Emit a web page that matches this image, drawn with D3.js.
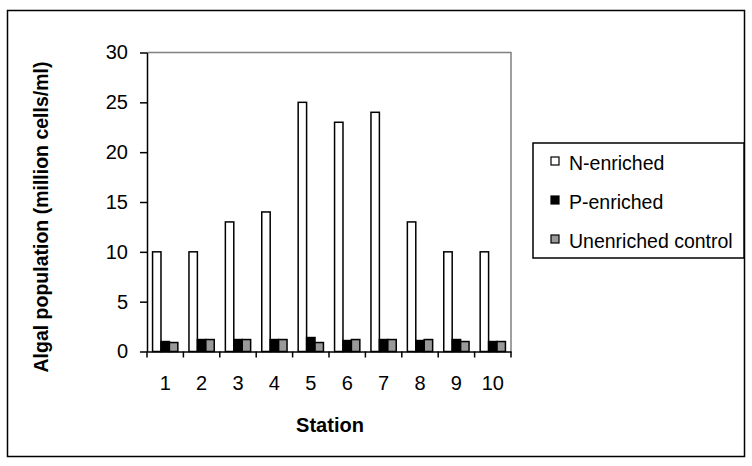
<!DOCTYPE html>
<html>
<head>
<meta charset="utf-8">
<script src="https://cdn.jsdelivr.net/npm/d3@7"></script>
<style>
  body { margin: 0; background: #fff; }
  text { font-family: "Liberation Sans", Arial, sans-serif; }
</style>
</head>
<body>
<script>
// data
var stations = ["1", "2", "3", "4", "5", "6", "7", "8", "9", "10"];
var nEnriched = [10, 10, 13, 14, 25, 23, 24, 13, 10, 10];
var pEnriched = [1.0, 1.2, 1.2, 1.2, 1.4, 1.1, 1.2, 1.1, 1.2, 1.0];
var control = [0.9, 1.2, 1.2, 1.2, 0.9, 1.2, 1.2, 1.2, 1.0, 1.0];
var seriesNames = ["N-enriched", "P-enriched", "Unenriched control"];
var seriesColors = ["#ffffff", "#000000", "#999999"];
var yTicks = [0, 5, 10, 15, 20, 25, 30];

var w = 752, h = 466;
var plotLeft = 147, plotRight = 511, plotTop = 52.5, plotBottom = 351.5;

var svg = d3.select("body").append("svg")
	.attr("width", w)
	.attr("height", h);

// outer frame
svg.append("rect")
	.attr("x", 7.5).attr("y", 10.5)
	.attr("width", 737).attr("height", 446)
	.attr("fill", "none").attr("stroke", "black").attr("stroke-width", 1.5);

var x0 = d3.scaleBand().domain(stations).range([plotLeft, plotRight]);
var x1 = d3.scaleBand().domain([0, 1, 2]).range([0, x0.bandwidth()]).paddingOuter(0.66);
var y = d3.scaleLinear().domain([0, 30]).range([plotBottom, plotTop]);

// gray top/right plot border
svg.append("path")
	.attr("d", "M" + plotLeft + "," + plotTop + "H" + plotRight + "V" + plotBottom)
	.attr("fill", "none").attr("stroke", "#808080").attr("stroke-width", 1.5);

var rows = stations.map(function(s, i) {
	return { station: s, values: [nEnriched[i], pEnriched[i], control[i]] };
});

var groups = svg.selectAll(".station")
	.data(rows)
	.enter().append("g")
	.attr("class", "station")
	.attr("transform", function(d) { return "translate(" + x0(d.station) + ",0)"; });

groups.selectAll("rect")
	.data(function(d) { return d.values.map(function(v, k) { return { k: k, v: v }; }); })
	.enter().append("rect")
	.attr("x", function(d) { return x1(d.k); })
	.attr("width", x1.bandwidth())
	.attr("y", function(d) { return y(d.v); })
	.attr("height", function(d) { return y(0) - y(d.v); })
	.attr("fill", function(d) { return seriesColors[d.k]; })
	.attr("stroke", "black")
	.attr("stroke-width", 1.5);

// y axis
var yAxis = svg.append("g")
	.attr("transform", "translate(" + plotLeft + ",0)")
	.call(d3.axisLeft(y).tickValues(yTicks).tickSize(7).tickPadding(12).tickSizeOuter(0));
yAxis.select(".domain").attr("stroke-width", 1.5);
yAxis.selectAll(".tick line").attr("stroke-width", 1.5);
yAxis.selectAll("text").attr("font-size", 20).attr("font-family", "Liberation Sans, Arial, sans-serif");

// x axis: ticks between categories
var xAxis = svg.append("g")
	.attr("transform", "translate(0," + plotBottom + ")")
	.call(d3.axisBottom(x0).tickSize(0).tickPadding(24).tickSizeOuter(0));
xAxis.select(".domain").attr("stroke-width", 1.5);
xAxis.selectAll("text").attr("font-size", 20).attr("font-family", "Liberation Sans, Arial, sans-serif");
xAxis.selectAll(".sep")
	.data(stations.concat(["end"]))
	.enter().append("line")
	.attr("class", "sep")
	.attr("x1", function(d, i) { return plotLeft + i * x0.step(); })
	.attr("x2", function(d, i) { return plotLeft + i * x0.step(); })
	.attr("y1", 0).attr("y2", 6)
	.attr("stroke", "black").attr("stroke-width", 1.5);

// axis titles
svg.append("text")
	.attr("x", (plotLeft + plotRight) / 2 + 1)
	.attr("y", 432)
	.attr("text-anchor", "middle")
	.attr("font-size", 20)
	.attr("font-weight", "bold")
	.text("Station");

svg.append("text")
	.attr("transform", "translate(48,217) rotate(-90)")
	.attr("text-anchor", "middle")
	.attr("font-size", 19.5)
	.attr("font-weight", "bold")
	.text("Algal population (million cells/ml)");

// legend
var legend = svg.append("g");
legend.append("rect")
	.attr("x", 533).attr("y", 143)
	.attr("width", 211).attr("height", 115)
	.attr("fill", "white").attr("stroke", "black").attr("stroke-width", 1.5);

var items = legend.selectAll(".item")
	.data(seriesNames)
	.enter().append("g")
	.attr("class", "item")
	.attr("transform", function(d, i) { return "translate(0," + (170 + i * 39) + ")"; });

items.append("rect")
	.attr("x", 551).attr("y", -13)
	.attr("width", 8).attr("height", 8)
	.attr("fill", function(d, i) { return seriesColors[i]; })
	.attr("stroke", "black").attr("stroke-width", 1.2);

items.append("text")
	.attr("x", 569).attr("y", 0)
	.attr("font-size", 19.5)
	.text(function(d) { return d; });
</script>
</body>
</html>
